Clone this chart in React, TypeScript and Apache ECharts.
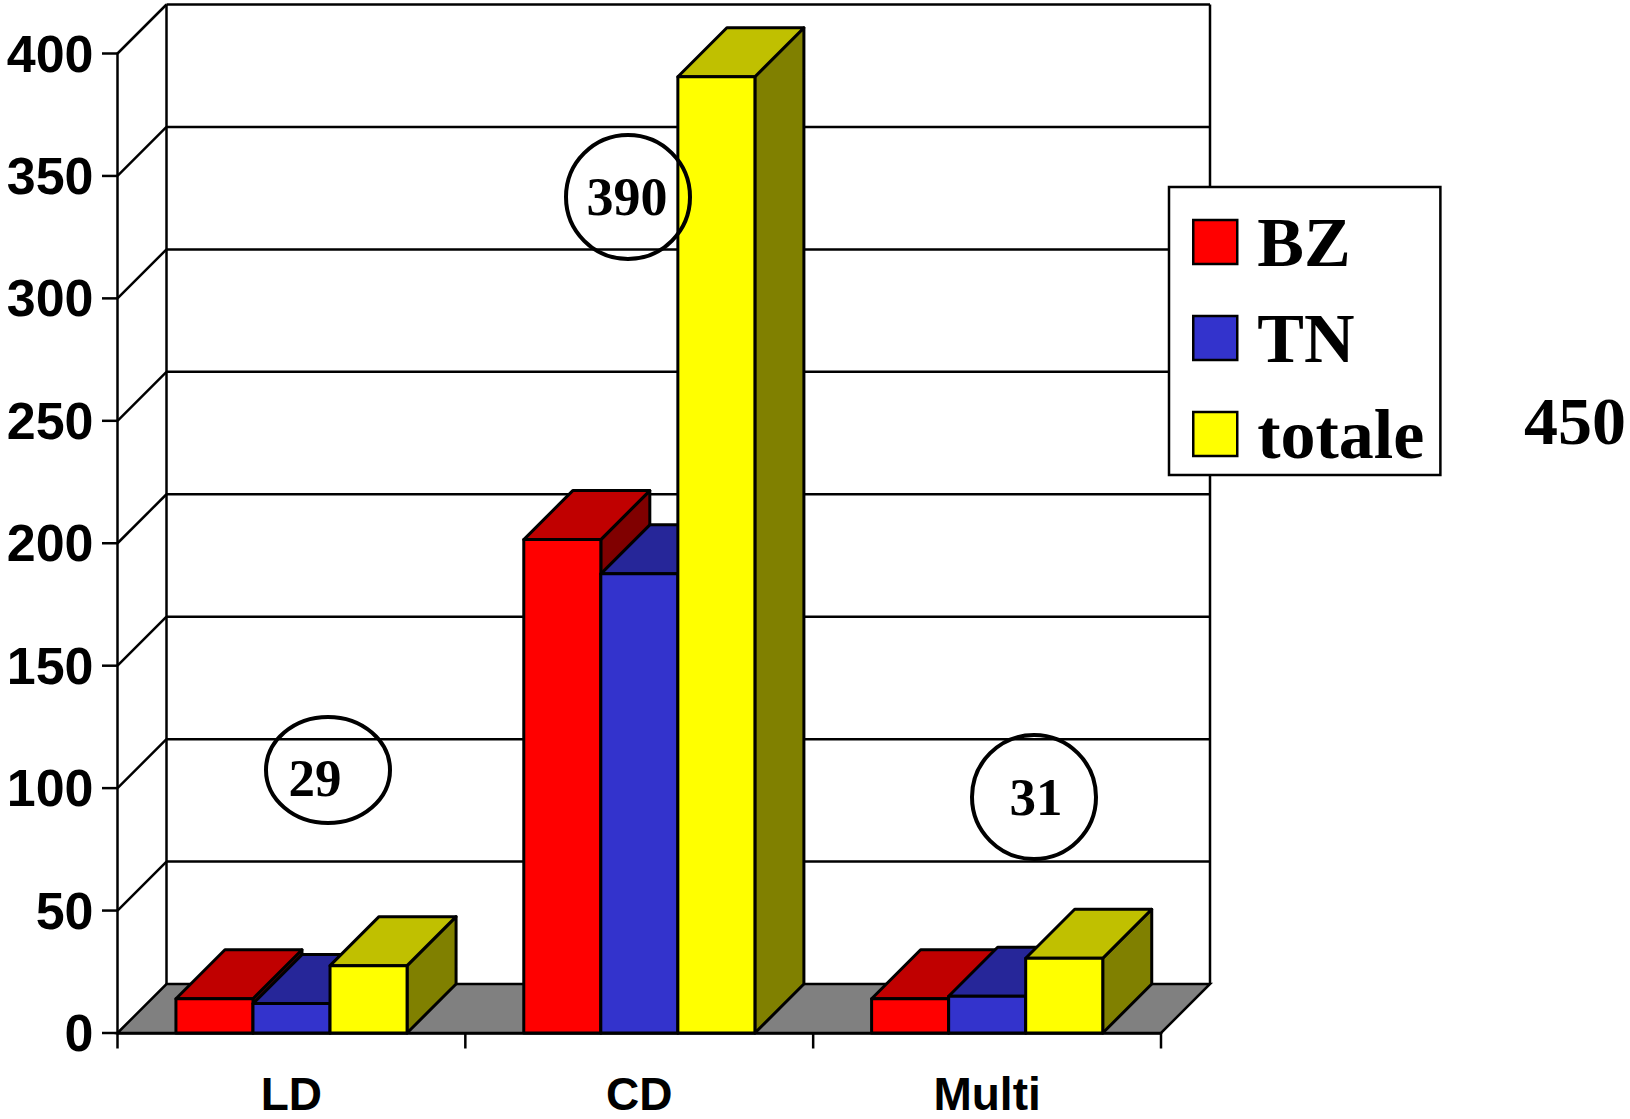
import React, { useEffect, useRef } from "react";
import * as echarts from "echarts";

const categories = ["LD", "CD", "Multi"];
const yTicks = [0, 50, 100, 150, 200, 250, 300, 350, 400];
const bzValues = [14, 201.5, 14];
const tnValues = [12, 187.5, 15];
const totaleValues = [27.5, 390.5, 30.5];
const seriesNames = ["BZ", "TN", "totale"];
const frontColors = ["#ff0000", "#3333cc", "#ffff00"];
const topColors = ["#c00000", "#262699", "#c0c000"];
const sideColors = ["#800000", "#1a1a66", "#808000"];
const circledLabels = ["29", "390", "31"];
const sideLabel = "450";

const DEPTH = 49;
const LEAD = 0.168;
const BAR = 0.2215;
const TICK = 15.5;
const LINE = { stroke: "#000", lineWidth: 2.5 };
const BAR_LINE = { stroke: "#000", lineWidth: 3 };

function barSeries(name: string, idx: number, values: number[]) {
  return {
    type: "custom",
    name,
    silent: true,
    z: 3 + idx,
    itemStyle: { color: frontColors[idx] },
    encode: { x: 0, y: 1 },
    data: values.map((v, i) => [i, v]),
    renderItem: (_p: any, api: any) => {
      const cat = api.value(0);
      const val = api.value(1);
      const top = api.coord([cat, val]);
      const base = api.coord([cat, 0]);
      const band = api.size([1, 0])[0];
      const x0 = top[0] - band / 2 + band * (LEAD + idx * BAR);
      const x1 = x0 + band * BAR;
      const yt = top[1];
      const yb = base[1];
      const poly = (points: number[][], fill: string) => ({
        type: "polygon",
        shape: { points },
        style: { fill, ...BAR_LINE, lineJoin: "round" },
      });
      return {
        type: "group",
        children: [
          poly([[x1, yt], [x1 + DEPTH, yt - DEPTH], [x1 + DEPTH, yb - DEPTH], [x1, yb]], sideColors[idx]),
          poly([[x0, yt], [x0 + DEPTH, yt - DEPTH], [x1 + DEPTH, yt - DEPTH], [x1, yt]], topColors[idx]),
          poly([[x0, yt], [x1, yt], [x1, yb], [x0, yb]], frontColors[idx]),
        ],
      };
    },
  };
}

const frameSeries = {
  type: "custom",
  name: "frame",
  silent: true,
  z: 1,
  encode: { x: 0, y: 1 },
  data: yTicks.map((t) => [0, t]),
  renderItem: (p: any, api: any) => {
    const tick = api.value(1);
    const y = api.coord([0, tick])[1];
    const y0 = api.coord([0, 0])[1];
    const yMax = api.coord([0, yTicks[yTicks.length - 1]])[1];
    const left = p.coordSys.x;
    const right = left + p.coordSys.width;
    const line = (x1: number, y1: number, x2: number, y2: number) => ({
      type: "line",
      shape: { x1, y1, x2, y2 },
      style: LINE,
    });
    const children: any[] = [line(left - TICK, y, left, y)];
    if (tick === 0) {
      children.push({
        type: "polygon",
        shape: {
          points: [[left, y0], [left + DEPTH, y0 - DEPTH], [right + DEPTH, y0 - DEPTH], [right, y0]],
        },
        style: { fill: "#808080", ...LINE },
      });
      children.push(line(left + DEPTH, yMax - DEPTH, left + DEPTH, y0 - DEPTH));
      children.push(line(right + DEPTH, yMax - DEPTH, right + DEPTH, y0 - DEPTH));
      for (let i = 0; i <= categories.length; i++) {
        const x = left + (i * p.coordSys.width) / categories.length;
        children.push(line(x, y0, x, y0 + TICK));
      }
    } else {
      children.push(line(left, y, left + DEPTH, y - DEPTH));
      children.push(line(left + DEPTH, y - DEPTH, right + DEPTH, y - DEPTH));
    }
    return { type: "group", children };
  },
};

function circled(cx: number, cy: number, rx: number, ry: number) {
  return {
    type: "ellipse",
    shape: { cx, cy, rx, ry },
    style: { fill: "none", stroke: "#000", lineWidth: 4 },
    z: 20,
  };
}

export default function App() {
  const ref = useRef<HTMLDivElement>(null);
  useEffect(() => {
    const chart = echarts.init(ref.current!, null, { renderer: "svg" });
    const serif = "'Liberation Serif'";
    const labelStyle = (fontSize: number) => ({
      font: `bold ${fontSize}px ${serif}`,
      fill: "#000",
      textAlign: "center",
      textVerticalAlign: "middle",
    });
    chart.setOption({
      animation: false,
      backgroundColor: "#fff",
      grid: { left: 117.5, right: 469, top: 53.5, bottom: 86, outerBoundsMode: "none" },
      xAxis: {
        type: "category",
        data: categories,
        axisLine: { lineStyle: { color: "#000", width: 2.5 } },
        axisTick: { show: false },
        axisLabel: {
          margin: 40,
          lineHeight: 42,
          fontFamily: "'Liberation Sans'",
          fontWeight: "bold",
          fontSize: 46,
          color: "#000",
        },
      },
      yAxis: {
        type: "value",
        min: 0,
        max: 400,
        interval: 50,
        splitLine: { show: false },
        axisLine: { show: true, lineStyle: { color: "#000", width: 2.5 } },
        axisTick: { show: false },
        axisLabel: {
          margin: 24,
          fontFamily: "'Liberation Sans'",
          fontWeight: "bold",
          fontSize: 52,
          color: "#000",
          padding: [6, 0, 0, 0],
        },
      },
      legend: {
        show: true,
        orient: "vertical",
        left: 1169,
        top: 187,
        selectedMode: false,
        backgroundColor: "#fff",
        borderColor: "#000",
        borderWidth: 2.5,
        borderRadius: 0,
        padding: [20, 16, 6, 23],
        itemWidth: 44,
        itemHeight: 44,
        itemGap: 26,
        textStyle: {
          fontFamily: serif,
          fontWeight: "bold",
          fontSize: 70,
          color: "#000",
          padding: [0, 0, 0, 15],
        },
        data: seriesNames.map((name, i) => ({
          name,
          icon: "rect",
          itemStyle: { color: frontColors[i], borderColor: "#000", borderWidth: 2.5 },
        })),
      },
      graphic: [
        circled(328, 770, 62, 53),
        circled(628, 197, 62, 62),
        circled(1034, 797, 62, 62),
        { type: "text", x: 315, y: 778, z: 21, style: { text: circledLabels[0], ...labelStyle(53) } },
        { type: "text", x: 627, y: 197, z: 21, style: { text: circledLabels[1], ...labelStyle(54) } },
        { type: "text", x: 1036, y: 797, z: 21, style: { text: circledLabels[2], ...labelStyle(53) } },
        { type: "text", x: 1575, y: 421, z: 21, style: { text: sideLabel, ...labelStyle(68) } },
      ],
      series: [
        frameSeries,
        barSeries(seriesNames[0], 0, bzValues),
        barSeries(seriesNames[1], 1, tnValues),
        barSeries(seriesNames[2], 2, totaleValues),
      ],
    });
    return () => chart.dispose();
  }, []);
  return (
    <div
      ref={ref}
      style={{ position: "absolute", left: 0, top: 0, width: 1630, height: 1119 }}
    />
  );
}
